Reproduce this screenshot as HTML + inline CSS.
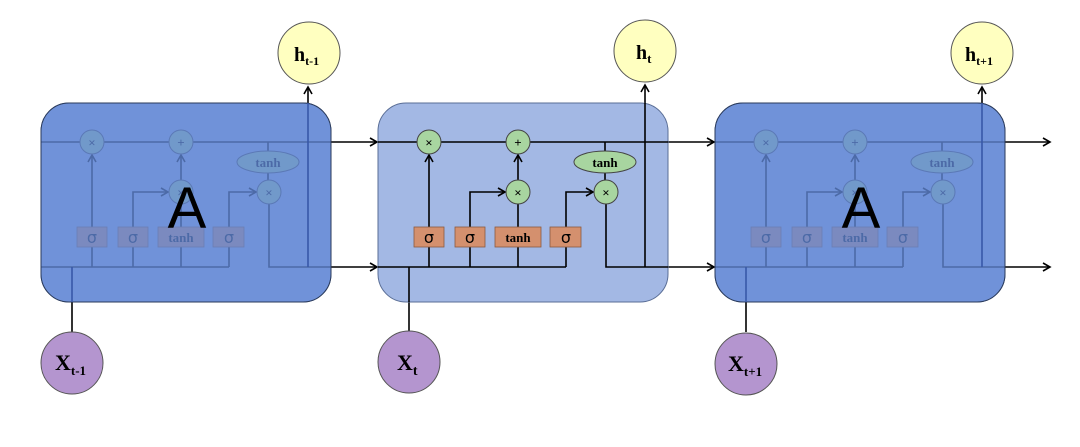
<!DOCTYPE html>
<html><head><meta charset="utf-8"><style>
html,body{margin:0;padding:0;background:#fff;}
svg{display:block;}
text{font-family:"Liberation Serif",serif;font-weight:bold;}
</style></head><body>
<svg width="1080" height="447" viewBox="0 0 1080 447" xmlns="http://www.w3.org/2000/svg">
<defs>
<marker id="ar" markerWidth="10" markerHeight="10" refX="8" refY="5" orient="auto" markerUnits="userSpaceOnUse">
<path d="M1,1 L8,5 L1,9" fill="none" stroke="#000" stroke-width="1.6"/>
</marker>
<g id="cell">
<rect x="378" y="103" width="290" height="199" rx="28" fill="#a3b8e4" stroke="#5a6e96" stroke-width="1"/>
<g stroke="#000" stroke-width="1.6" fill="none">
<line x1="378" y1="142" x2="668" y2="142"/>
<line x1="378" y1="267" x2="566" y2="267"/>
<line x1="429" y1="267" x2="429" y2="155" marker-end="url(#ar)"/>
<polyline points="470,267 470,192 505,192" marker-end="url(#ar)"/>
<line x1="518" y1="267" x2="518" y2="204"/>
<line x1="518" y1="180" x2="518" y2="155" marker-end="url(#ar)"/>
<polyline points="566,267 566,192 593,192" marker-end="url(#ar)"/>
<line x1="605" y1="142" x2="605" y2="180"/>
<polyline points="606,204 606,267 668,267"/>
</g>
<g stroke="#444" stroke-width="1" fill="#a8d5a0">
<circle cx="429" cy="142" r="12"/>
<circle cx="518" cy="142" r="12"/>
<circle cx="518" cy="192" r="12"/>
<circle cx="606" cy="192" r="12"/>
<ellipse cx="605" cy="162" rx="31" ry="11"/>
</g>
<g fill="#d4906e" stroke="#8a5a40" stroke-width="0.8">
<rect x="414" y="227" width="30" height="20"/>
<rect x="455" y="227" width="30" height="20"/>
<rect x="495" y="227" width="46" height="20"/>
<rect x="550" y="227" width="31" height="20"/>
</g>
<g font-size="13" text-anchor="middle" fill="#000">
<text x="429" y="147">×</text><text x="518" y="147">+</text>
<text x="518" y="197">×</text><text x="606" y="197">×</text>
<text x="605" y="167">tanh</text>
<text x="429" y="243" font-size="16" style="font-weight:normal;font-family:'DejaVu Sans',sans-serif">σ</text>
<text x="470" y="243" font-size="16" style="font-weight:normal;font-family:'DejaVu Sans',sans-serif">σ</text>
<text x="518" y="242">tanh</text>
<text x="566" y="243" font-size="16" style="font-weight:normal;font-family:'DejaVu Sans',sans-serif">σ</text>
</g>
</g>
</defs>

<g stroke="#000" stroke-width="1.6" fill="none">
<line x1="331" y1="142" x2="377" y2="142" marker-end="url(#ar)"/>
<line x1="331" y1="267" x2="377" y2="267" marker-end="url(#ar)"/>
<line x1="668" y1="142" x2="714" y2="142" marker-end="url(#ar)"/>
<line x1="668" y1="267" x2="714" y2="267" marker-end="url(#ar)"/>
<line x1="1005" y1="142" x2="1050" y2="142" marker-end="url(#ar)"/>
<line x1="1005" y1="267" x2="1050" y2="267" marker-end="url(#ar)"/>
<line x1="308" y1="267" x2="308" y2="87" marker-end="url(#ar)"/>
<line x1="645" y1="267" x2="645" y2="85" marker-end="url(#ar)"/>
<line x1="982" y1="267" x2="982" y2="87" marker-end="url(#ar)"/>
<line x1="72" y1="267" x2="72" y2="332"/>
<line x1="409" y1="267" x2="409" y2="332"/>
<line x1="746" y1="267" x2="746" y2="332"/>
</g>

<use href="#cell" transform="translate(-337,0)"/>
<use href="#cell"/>
<use href="#cell" transform="translate(337,0)"/>
<line x1="645" y1="267" x2="645" y2="103" stroke="#000" stroke-width="1.6"/>
<line x1="409" y1="267" x2="409" y2="302" stroke="#000" stroke-width="1.6"/>

<rect x="41" y="103" width="290" height="199" rx="28" fill="#6188d6" fill-opacity="0.78" stroke="#2a3a5a" stroke-width="1"/>
<rect x="715" y="103" width="290" height="199" rx="28" fill="#6188d6" fill-opacity="0.78" stroke="#2a3a5a" stroke-width="1"/>
<g stroke="#3858a8" stroke-width="1.6">
<line x1="308" y1="267" x2="308" y2="103"/>
<line x1="982" y1="267" x2="982" y2="103"/>
<line x1="72" y1="267" x2="72" y2="302"/>
<line x1="746" y1="267" x2="746" y2="302"/>
</g>
<text x="187" y="228" font-size="58" text-anchor="middle" style="font-family:'Liberation Sans',sans-serif;font-weight:normal" fill="#000">A</text>
<text x="861" y="228" font-size="58" text-anchor="middle" style="font-family:'Liberation Sans',sans-serif;font-weight:normal" fill="#000">A</text>

<g fill="#ffffc0" stroke="#555" stroke-width="1">
<circle cx="309" cy="53" r="31"/>
<circle cx="645" cy="51" r="31"/>
<circle cx="982" cy="53" r="31"/>
</g>
<g font-size="20" fill="#000">
<text x="294" y="61">h<tspan font-size="12" dy="4">t-1</tspan></text>
<text x="636" y="59">h<tspan font-size="13" dy="4">t</tspan></text>
<text x="965" y="61">h<tspan font-size="12" dy="4">t+1</tspan></text>
</g>
<g fill="#b495cf" stroke="#555" stroke-width="1">
<circle cx="72" cy="363" r="31"/>
<circle cx="409" cy="362" r="31"/>
<circle cx="746" cy="364" r="31"/>
</g>
<g font-size="22" fill="#000">
<text x="55" y="370">X<tspan font-size="13" dy="5">t-1</tspan></text>
<text x="397" y="370">X<tspan font-size="14" dy="5">t</tspan></text>
<text x="728" y="371">X<tspan font-size="13" dy="5">t+1</tspan></text>
</g>
</svg>
</body></html>
